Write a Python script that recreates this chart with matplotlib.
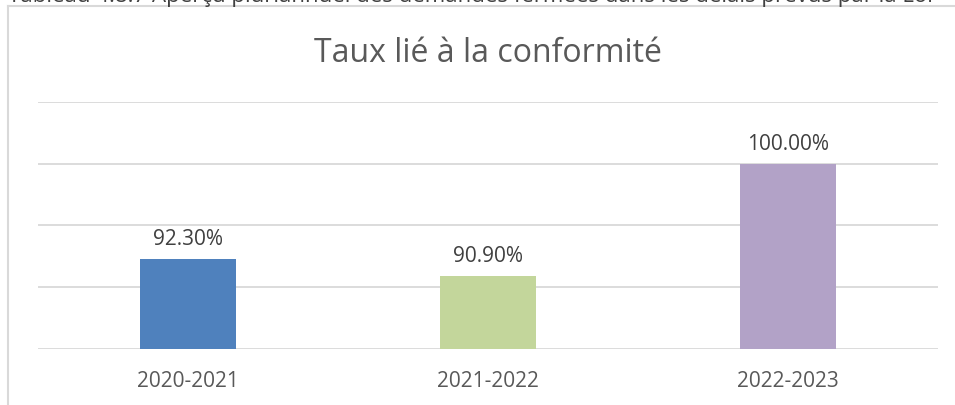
import matplotlib
matplotlib.use("Agg")
import matplotlib.pyplot as plt
from matplotlib.lines import Line2D

categories = ["2020-2021", "2021-2022", "2022-2023"]
values = [92.30, 90.90, 100.00]
colors = ["#4F81BD", "#C3D69B", "#B2A2C7"]
title = "Taux lié à la conformité"
caption = "Tableau 4.8.7 Aperçu pluriannuel des demandes fermées dans les délais prévus par la Loi"

plt.rcParams['font.family'] = ['Open Sans', 'DejaVu Sans']

W, H = 955, 405
fig = plt.figure(figsize=(W / 100, H / 100), dpi=100)
fig.patch.set_facecolor("white")

# cropped caption at very top (cut off as in the source screenshot)
fig.text(8 / W, 1 - 2 / H, caption, fontsize=16, color="#404040", ha="left", va="baseline")

# chart frame (partially visible)
fig.add_artist(Line2D([8 / W, 1], [1 - 5.5 / H, 1 - 5.5 / H], transform=fig.transFigure, color="#D9D9D9", lw=1.5))
fig.add_artist(Line2D([8 / W, 8 / W], [0, 1 - 5.5 / H], transform=fig.transFigure, color="#D9D9D9", lw=1.5))

left, right, top, bottom = 38, 938, 102, 349
ax = fig.add_axes([left / W, 1 - bottom / H, (right - left) / W, (bottom - top) / H])
x = list(range(len(categories)))
ax.bar(x, values, width=0.317, color=colors, zorder=3)
ax.set_xlim(-0.5, len(categories) - 0.5)
ax.set_ylim(85, 105)
ax.set_yticks([85, 90, 95, 100, 105])
ax.yaxis.grid(True, color="#D9D9D9", lw=1.3, zorder=0)
ax.set_yticklabels([])
ax.tick_params(axis="y", length=0)
ax.tick_params(axis="x", length=0, pad=16, labelsize=15, labelcolor="#595959")
ax.set_xticks(x)
ax.set_xticklabels(categories)
for s in ax.spines.values():
    s.set_visible(False)

for xi, v in zip(x, values):
    ax.annotate(f"{v:.2f}%", (xi, v), xytext=(0, 14), textcoords="offset points",
                ha="center", va="center", fontsize=15, color="#404040")

fig.text((left + right) / 2 / W, 1 - 54 / H, title, fontsize=23, color="#595959", ha="center", va="center")

fig.savefig("out.png", dpi=100)
